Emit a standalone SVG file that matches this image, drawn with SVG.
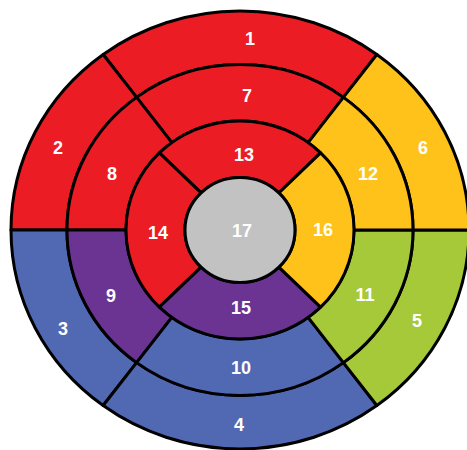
<svg xmlns="http://www.w3.org/2000/svg" width="467" height="450" viewBox="0 0 467 450">
<style>
.s{stroke:#000;stroke-width:3;stroke-linejoin:round;vector-effect:non-scaling-stroke}
.r{fill:#EC1C24}.y{fill:#FFC21A}.g{fill:#A6C93A}.b{fill:#5168B2}.p{fill:#6B3392}.k{fill:#C2C2C2}
text{font-family:"Liberation Sans",Arial,sans-serif;font-weight:bold;font-size:18px;fill:#fff;text-anchor:middle}
</style>
<rect width="467" height="450" fill="#fff"/>
<g transform="translate(240 230) scale(1 0.956)">
<g id="seg1"><path class="s r" d="M136.85,-183.61A229 229 0 0 0 -136.85,-183.61L-103.38,-138.71A173 173 0 0 1 103.38,-138.71Z"/></g>
<g id="seg2"><path class="s r" d="M-136.85,-183.61A229 229 0 0 0 -229,0L-173,0A173 173 0 0 1 -103.38,-138.71Z"/></g>
<g id="seg3"><path class="s b" d="M-229,0A229 229 0 0 0 -136.85,183.61L-103.38,138.71A173 173 0 0 1 -173,0Z"/></g>
<g id="seg4"><path class="s b" d="M-136.85,183.61A229 229 0 0 0 136.85,183.61L103.38,138.71A173 173 0 0 1 -103.38,138.71Z"/></g>
<g id="seg5"><path class="s g" d="M136.85,183.61A229 229 0 0 0 229,0L173,0A173 173 0 0 1 103.38,138.71Z"/></g>
<g id="seg6"><path class="s y" d="M229,0A229 229 0 0 0 136.85,-183.61L103.38,-138.71A173 173 0 0 1 173,0Z"/></g>
<g id="seg7"><path class="s r" d="M103.38,-138.71A173 173 0 0 0 -103.38,-138.71L-68.13,-91.41A114 114 0 0 1 68.13,-91.41Z"/></g>
<g id="seg8"><path class="s r" d="M-103.38,-138.71A173 173 0 0 0 -173,0L-114,0A114 114 0 0 1 -68.13,-91.41Z"/></g>
<g id="seg9"><path class="s p" d="M-173,0A173 173 0 0 0 -103.38,138.71L-68.13,91.41A114 114 0 0 1 -114,0Z"/></g>
<g id="seg10"><path class="s b" d="M-103.38,138.71A173 173 0 0 0 103.38,138.71L68.13,91.41A114 114 0 0 1 -68.13,91.41Z"/></g>
<g id="seg11"><path class="s g" d="M103.38,138.71A173 173 0 0 0 173,0L114,0A114 114 0 0 1 68.13,91.41Z"/></g>
<g id="seg12"><path class="s y" d="M173,0A173 173 0 0 0 103.38,-138.71L68.13,-91.41A114 114 0 0 1 114,0Z"/></g>
<g id="seg13"><path class="s r" d="M80.61,-80.61A114 114 0 0 0 -80.61,-80.61L-38.89,-38.89A55 55 0 0 1 38.89,-38.89Z"/></g>
<g id="seg14"><path class="s r" d="M-80.61,-80.61A114 114 0 0 0 -80.61,80.61L-38.89,38.89A55 55 0 0 1 -38.89,-38.89Z"/></g>
<g id="seg15"><path class="s p" d="M-80.61,80.61A114 114 0 0 0 80.61,80.61L38.89,38.89A55 55 0 0 1 -38.89,38.89Z"/></g>
<g id="seg16"><path class="s y" d="M80.61,80.61A114 114 0 0 0 80.61,-80.61L38.89,-38.89A55 55 0 0 1 38.89,38.89Z"/></g>
<g id="seg17"><circle class="s k" cx="0" cy="0" r="55"/></g>
</g>
<g id="labels">
<text x="250" y="44.5">1</text>
<text x="247" y="101.5">7</text>
<text x="244" y="160.5">13</text>
<text x="58" y="153.5">2</text>
<text x="112" y="179.5">8</text>
<text x="368" y="179.5">12</text>
<text x="423" y="153.5">6</text>
<text x="158" y="238.5">14</text>
<text x="242" y="236.5">17</text>
<text x="323" y="235.5">16</text>
<text x="111" y="301.5">9</text>
<text x="365" y="300.5">11</text>
<text x="241" y="313.5">15</text>
<text x="63" y="334.5">3</text>
<text x="417" y="326.5">5</text>
<text x="241" y="373.5">10</text>
<text x="239" y="430.5">4</text>
</g>
</svg>
